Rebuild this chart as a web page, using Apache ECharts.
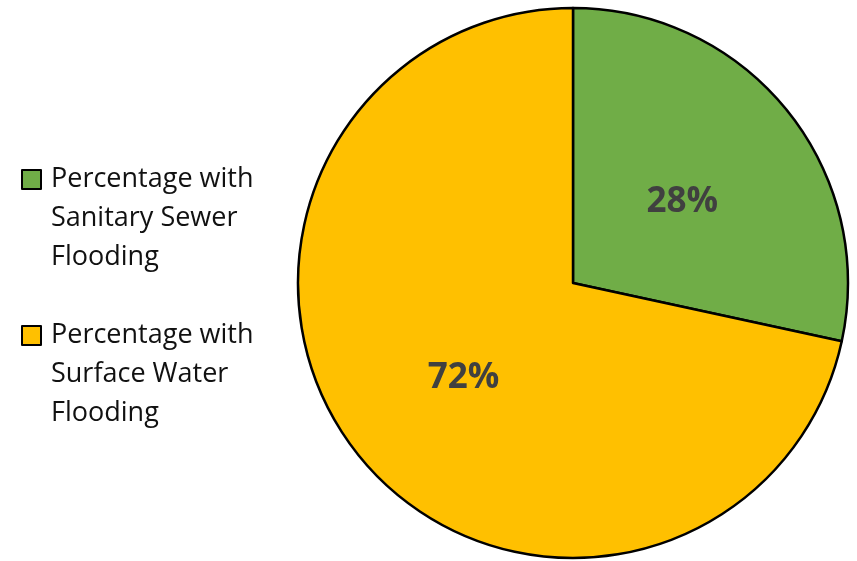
<!DOCTYPE html>
<html><head><meta charset="utf-8">
<script src="https://cdn.jsdelivr.net/npm/echarts@6/dist/echarts.min.js"></script>
<style>html,body{margin:0;padding:0;background:#fff}#c{width:857px;height:561px}</style>
</head><body><div id="c"></div>
<script>
var categories = ["Percentage with\nSanitary Sewer\nFlooding", "Percentage with\nSurface Water\nFlooding"];
var values = [28.4, 71.6];
var colors = ["#70AD47", "#FFC000"];

var chart = echarts.init(document.getElementById('c'), null, {renderer: 'canvas'});
chart.setOption({
  animation: false,
  backgroundColor: '#ffffff',
  legend: {
    orient: 'vertical',
    left: 21,
    top: 82,
    padding: 0,
    itemWidth: 19,
    itemHeight: 19,
    itemGap: -39,
    icon: 'rect',
    data: categories,
    formatter: function (name) { return '\n\n' + name; },
    textStyle: {
      fontFamily: 'Open Sans',
      fontSize: 27,
      color: '#111',
      lineHeight: 39,
      padding: [0, 0, 0, 5]
    }
  },
  series: [{
    type: 'pie',
    center: [573, 283],
    radius: 275,
    startAngle: 90,
    clockwise: true,
    data: categories.map(function (n, i) {
      return {name: n, value: values[i], itemStyle: {color: colors[i]}};
    }),
    itemStyle: {borderColor: '#000', borderWidth: 2.5},
    label: {
      position: 'inside',
      formatter: function (p) { return Math.round(p.value) + '%'; },
      fontFamily: 'Open Sans',
      fontWeight: 'bold',
      fontSize: 35,
      color: '#404040'
    },
    labelLayout: {dy: 7},
    labelLine: {show: false},
    emphasis: {disabled: true}
  }]
});
</script></body></html>
